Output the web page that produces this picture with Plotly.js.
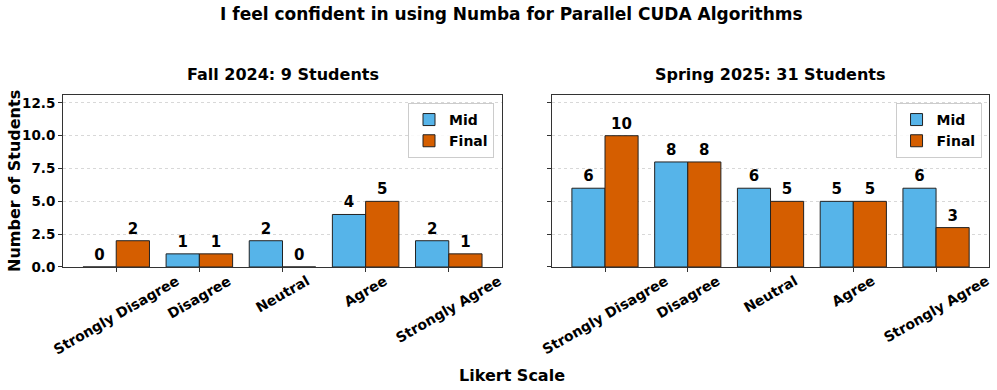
<!DOCTYPE html>
<html>
<head>
<meta charset="utf-8">
<script src="https://cdn.plot.ly/plotly-3.0.1.min.js"></script>
<style>html,body{margin:0;padding:0;background:#fff;}#chart{width:997px;height:390px;}</style>
</head>
<body>
<div id="chart"></div>
<script>
const categories = ["Strongly Disagree", "Disagree", "Neutral", "Agree", "Strongly Agree"];
const fallMid = [0, 1, 2, 4, 2];
const fallFinal = [2, 1, 0, 5, 1];
const springMid = [6, 8, 6, 5, 6];
const springFinal = [10, 8, 5, 5, 3];
const yTicks = [0, 2.5, 5, 7.5, 10, 12.5];

const FONT = "DejaVu Sans, sans-serif";
const midColor = "#56B4E9";
const finalColor = "#D55E00";
const xIdx = categories.map((_, i) => i);

function barTrace(vals, name, color, xa, ya, legend, offset) {
  return {
    type: "bar", x: xIdx, y: vals, name: name, xaxis: xa, yaxis: ya, legend: legend,
    width: 0.4, offset: offset,
    marker: {color: color, line: {color: "#222", width: 1}},
    text: vals.map(String), textposition: "outside", cliponaxis: false,
    textfont: {family: FONT, size: 15, color: "#000", weight: "bold"},
    hoverinfo: "skip"
  };
}

const data = [
  barTrace(fallMid, "Mid", midColor, "x", "y", "legend", -0.4),
  barTrace(fallFinal, "Final", finalColor, "x", "y", "legend", 0),
  barTrace(springMid, "Mid", midColor, "x2", "y2", "legend2", -0.4),
  barTrace(springFinal, "Final", finalColor, "x2", "y2", "legend2", 0)
];

const tickFont = {family: FONT, size: 13.5, color: "#000", weight: "bold"};
function xAxis(domain, anchor) {
  return {
    domain: domain, anchor: anchor, range: [-0.64, 4.64],
    tickmode: "array", tickvals: xIdx, showticklabels: false,
    ticks: "outside", ticklen: 4, tickcolor: "#333",
    showline: true, mirror: true, linecolor: "#333", linewidth: 1,
    showgrid: false, zeroline: false, automargin: false
  };
}
function yAxis(anchor, showLabels) {
  return {
    domain: [0.3154, 0.7564], anchor: anchor, range: [0, 13.1],
    tickmode: "array", tickvals: yTicks, ticktext: yTicks.map(v => v.toFixed(1)),
    showticklabels: showLabels,
    ticks: "outside", ticklen: 4, tickcolor: "#333",
    showline: true, mirror: true, linecolor: "#333", linewidth: 1,
    showgrid: true, gridcolor: "#d8d8d8", griddash: "dot", gridwidth: 1,
    zeroline: false, tickfont: tickFont, automargin: false
  };
}

const annotations = [
  {text: "I feel confident in using Numba for Parallel CUDA Algorithms", xref: "paper", yref: "paper",
   x: 0.5135, y: 1 - 14/390, xanchor: "center", yanchor: "middle", showarrow: false,
   font: {family: FONT, size: 17, weight: "bold"}},
  {text: "Fall 2024: 9 Students", xref: "paper", yref: "paper",
   x: 0.2834, y: 1 - 74/390, xanchor: "center", yanchor: "middle", showarrow: false,
   font: {family: FONT, size: 16, weight: "bold"}},
  {text: "Spring 2025: 31 Students", xref: "paper", yref: "paper",
   x: 0.7728, y: 1 - 74/390, xanchor: "center", yanchor: "middle", showarrow: false,
   font: {family: FONT, size: 16, weight: "bold"}},
  {text: "Likert Scale", xref: "paper", yref: "paper",
   x: 0.5135, y: 1 - 375/390, xanchor: "center", yanchor: "middle", showarrow: false,
   font: {family: FONT, size: 16, weight: "bold"}},
  {text: "Number of Students", xref: "paper", yref: "paper", textangle: -90,
   x: 14/997, y: 1 - 181/390, xanchor: "center", yanchor: "middle", showarrow: false,
   font: {family: FONT, size: 16, weight: "bold"}}
];
["x", "x2"].forEach(function (xr) {
  categories.forEach(function (c, i) {
    annotations.push({
      text: c, xref: xr, yref: "paper", x: xIdx[i], y: 1 - 271/390,
      xanchor: "center", yanchor: "top", textangle: -30, showarrow: false,
      borderpad: 0, font: {family: FONT, size: 14, weight: "bold", color: "#000"}
    });
  });
});

const layout = {
  width: 997, height: 390,
  margin: {l: 0, r: 0, t: 0, b: 0},
  paper_bgcolor: "#fff", plot_bgcolor: "#fff",
  barmode: "overlay",
  showlegend: true,
  font: {family: FONT, color: "#000"},
  xaxis: xAxis([0.0632, 0.5035], "y"),
  yaxis: yAxis("x", true),
  xaxis2: xAxis([0.5537, 0.992], "y2"),
  yaxis2: yAxis("x2", false),
  legend: {
    x: 0.4955, y: 0.736, xanchor: "right", yanchor: "top",
    bgcolor: "rgba(255,255,255,0.85)", bordercolor: "#ccc", borderwidth: 1,
    font: {family: FONT, size: 14, weight: "bold"}, tracegroupgap: 0
  },
  legend2: {
    x: 0.9845, y: 0.736, xanchor: "right", yanchor: "top",
    bgcolor: "rgba(255,255,255,0.85)", bordercolor: "#ccc", borderwidth: 1,
    font: {family: FONT, size: 14, weight: "bold"}, tracegroupgap: 0
  },
  annotations: annotations
};

Plotly.newPlot("chart", data, layout, {displayModeBar: false, staticPlot: true});
</script>
</body>
</html>
